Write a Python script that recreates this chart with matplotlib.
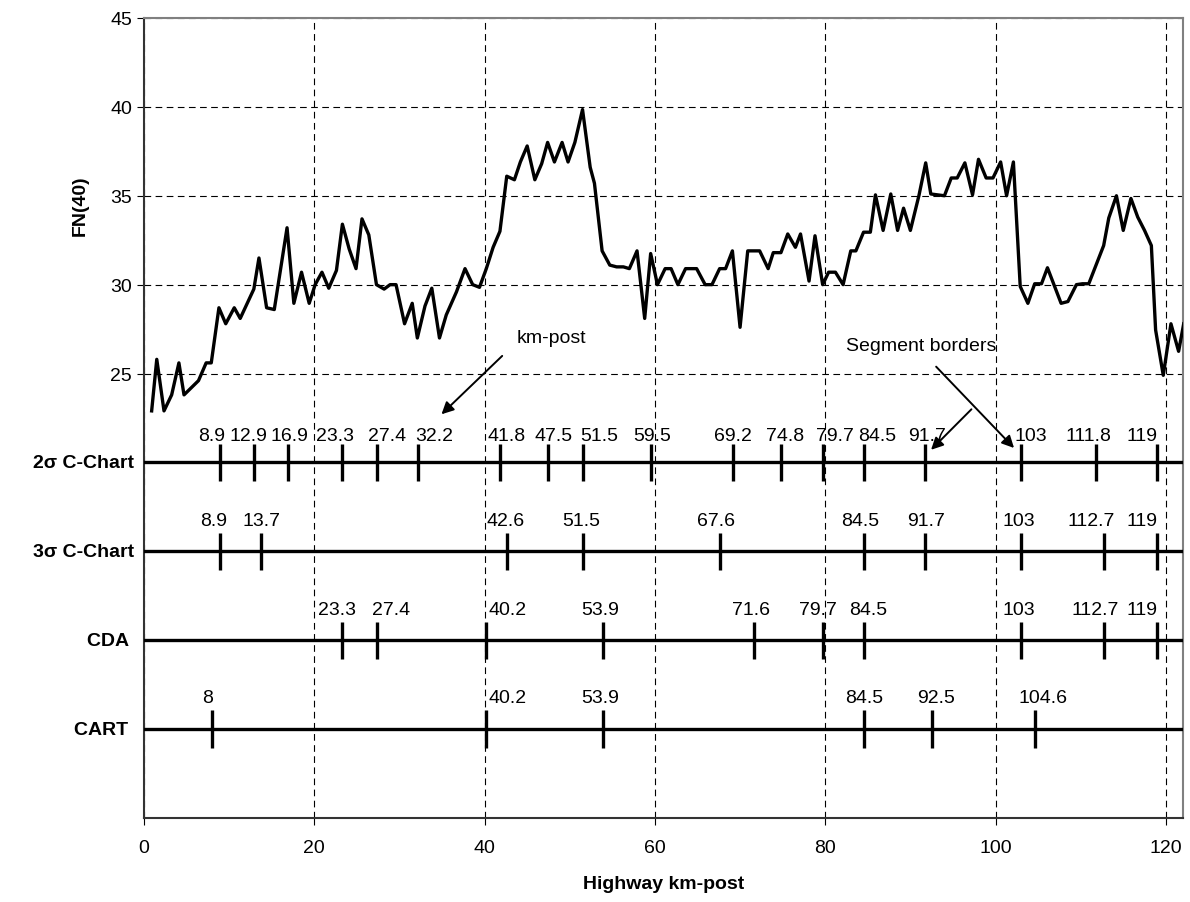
import numpy as np
import matplotlib
matplotlib.use("Agg")
import matplotlib.pyplot as plt

plt.rcParams["font.family"] = ["Liberation Sans", "DejaVu Sans"]

# FN(40) profile along the highway
km = [0.9, 1.5, 2.35, 3.25, 4.1, 4.7, 6.4, 7.3, 7.9, 8.8, 9.6, 10.6, 11.3, 12.9, 13.5,
      14.4, 15.3, 16.8, 17.6, 18.5, 19.4, 20.1, 20.9, 21.7, 22.6, 23.3, 24.1, 24.9, 25.6,
      26.4, 27.3, 28.2, 28.9, 29.6, 30.6, 31.5, 32.1, 33.0, 33.8, 34.7, 35.5, 36.7, 37.7,
      38.6, 39.4, 40.2, 41.0, 41.8, 42.6, 43.5, 44.2, 45.0, 45.9, 46.7, 47.4, 48.2, 49.1,
      49.8, 50.6, 51.5, 52.4, 52.9, 53.8, 54.7, 55.5, 56.3, 57.0, 57.9, 58.8, 59.5, 60.3,
      61.2, 61.9, 62.7, 63.6, 64.9, 65.9, 66.7, 67.6, 68.3, 69.1, 70.0, 70.9, 72.3, 73.3,
      73.9, 74.8, 75.6, 76.5, 77.1, 78.1, 78.8, 79.7, 80.4, 81.2, 82.1, 83.0, 83.6, 84.5,
      85.3, 85.9, 86.8, 87.7, 88.5, 89.2, 90.0, 91.0, 91.8, 92.4, 94.0, 94.8, 95.5, 96.4,
      97.3, 98.0, 98.9, 99.7, 100.6, 101.3, 102.1, 102.9, 103.8, 104.6, 105.4, 106.1,
      107.7, 108.5, 109.5, 110.2, 110.95, 111.8, 112.7, 113.3, 114.2, 115.0, 115.9, 116.7,
      117.5, 118.3, 118.8, 119.7, 120.6, 121.5, 122.1]
fn40 = [22.9, 25.8, 22.9, 23.8, 25.6, 23.8, 24.6, 25.6, 25.6, 28.7, 27.8, 28.7, 28.1, 29.75,
        31.5, 28.7, 28.6, 33.2, 28.95, 30.7, 28.95, 30.0, 30.7, 29.8, 30.8, 33.4, 32.0, 30.9,
        33.7, 32.8, 30.0, 29.75, 30.0, 30.0, 27.8, 28.95, 27.0, 28.8, 29.8, 27.0, 28.3, 29.6,
        30.9, 30.0, 29.85, 30.9, 32.1, 33.0, 36.1, 35.9, 36.9, 37.8, 35.9, 36.8, 38.0, 36.9,
        38.0, 36.9, 38.0, 39.85, 36.6, 35.7, 31.9, 31.1, 31.0, 31.0, 30.9, 31.9, 28.1, 31.75,
        30.0, 30.9, 30.9, 30.0, 30.9, 30.9, 30.0, 30.0, 30.9, 30.9, 31.9, 27.6, 31.9, 31.9,
        30.9, 31.8, 31.8, 32.85, 32.1, 32.85, 30.2, 32.75, 30.0, 30.7, 30.7, 30.0, 31.9, 31.9,
        32.95, 32.95, 35.05, 33.05, 35.1, 33.05, 34.3, 33.05, 35.0, 36.85, 35.1, 35.0, 36.0,
        36.0, 36.85, 35.05, 37.05, 36.0, 36.0, 36.9, 35.0, 36.9, 29.9, 28.95, 30.05, 30.05,
        30.95, 28.95, 29.05, 30.0, 30.05, 30.05, 31.1, 32.2, 33.75, 35.0, 33.05, 34.85, 33.8,
        33.05, 32.2, 27.45, 24.9, 27.8, 26.25, 27.8]

# segment borders found by each method
methods = ["2σ C-Chart", "3σ C-Chart", "CDA ", "CART "]
row_level = [20, 15, 10, 5]
borders = [
    [8.9, 12.9, 16.9, 23.3, 27.4, 32.2, 41.8, 47.5, 51.5, 59.5, 69.2, 74.8, 79.7, 84.5,
     91.7, 103, 111.8, 119],
    [8.9, 13.7, 42.6, 51.5, 67.6, 84.5, 91.7, 103, 112.7, 119],
    [23.3, 27.4, 40.2, 53.9, 71.6, 79.7, 84.5, 103, 112.7, 119],
    [8, 40.2, 53.9, 84.5, 92.5, 104.6],
]

# where the hand-placed number labels sit (x centre) and how high above each row
label_x = [
    [7.9, 12.25, 17.1, 22.4, 28.5, 34.1, 42.6, 48.1, 53.5, 59.7, 69.2, 75.3, 81.2, 86.1,
     92.0, 104.1, 110.9, 117.25],
    [8.2, 13.8, 42.5, 51.3, 67.2, 84.1, 91.9, 102.7, 111.2, 117.2],
    [22.65, 29.05, 42.7, 53.6, 71.3, 79.2, 85.0, 102.7, 111.7, 117.2],
    [7.5, 42.7, 53.6, 84.6, 93.0, 105.6],
]
label_dy = [1.27, 1.46, 1.5, 1.55]

fig = plt.figure(figsize=(11.9, 9.03), dpi=100)
ax = fig.add_axes([0.121, 0.093, 0.873, 0.886])

ax.plot(km, fn40, color="black", lw=2.4, zorder=3)

for name, lev, pts, lx, dy in zip(methods, row_level, borders, label_x, label_dy):
    ax.plot([0, 122], [lev, lev], color="black", lw=2.4, zorder=3)
    ax.vlines(pts, lev - 1.05, lev + 1.05, color="black", lw=2.4, zorder=3)
    for p, x in zip(pts, lx):
        ax.text(x, lev + dy, "%g" % p, ha="center", va="baseline", fontsize=14)
    ax.text(-1.2, lev, name, ha="right", va="center", fontsize=14, fontweight="bold")

arrow = dict(arrowstyle="-|>", color="black", lw=1.4, mutation_scale=18)
ax.annotate("", xy=(34.7, 22.6), xytext=(42.3, 26.1), arrowprops=arrow)
ax.text(47.9, 27.0, "km-post", ha="center", va="center", fontsize=14)

ax.annotate("", xy=(102.4, 20.7), xytext=(92.8, 25.5), arrowprops=arrow)
ax.annotate("", xy=(92.2, 20.6), xytext=(97.4, 23.1), arrowprops=arrow)
ax.text(91.3, 26.6, "Segment borders", ha="center", va="center", fontsize=14)

ax.set_xlim(0, 122)
ax.set_ylim(0, 45)
ax.set_xticks(range(0, 121, 20))
ax.set_yticks(range(25, 46, 5))
ax.tick_params(labelsize=14, direction="out", length=5)
ax.tick_params(axis="x", pad=10)
ax.grid(True, color="black", ls=(0, (6, 4)), lw=0.8)
ax.set_axisbelow(True)

for s in ["left", "bottom"]:
    ax.spines[s].set_color("#333333")
    ax.spines[s].set_linewidth(1.5)
for s in ["top", "right"]:
    ax.spines[s].set_color("#808080")
    ax.spines[s].set_linewidth(1.5)

ax.set_xlabel("Highway km-post", fontsize=14, fontweight="bold", labelpad=14)
ax.text(-0.0616, 0.766, "FN(40)", transform=ax.transAxes, rotation=90,
        ha="center", va="center", fontsize=14, fontweight="bold")

fig.savefig("out.png", dpi=100)
